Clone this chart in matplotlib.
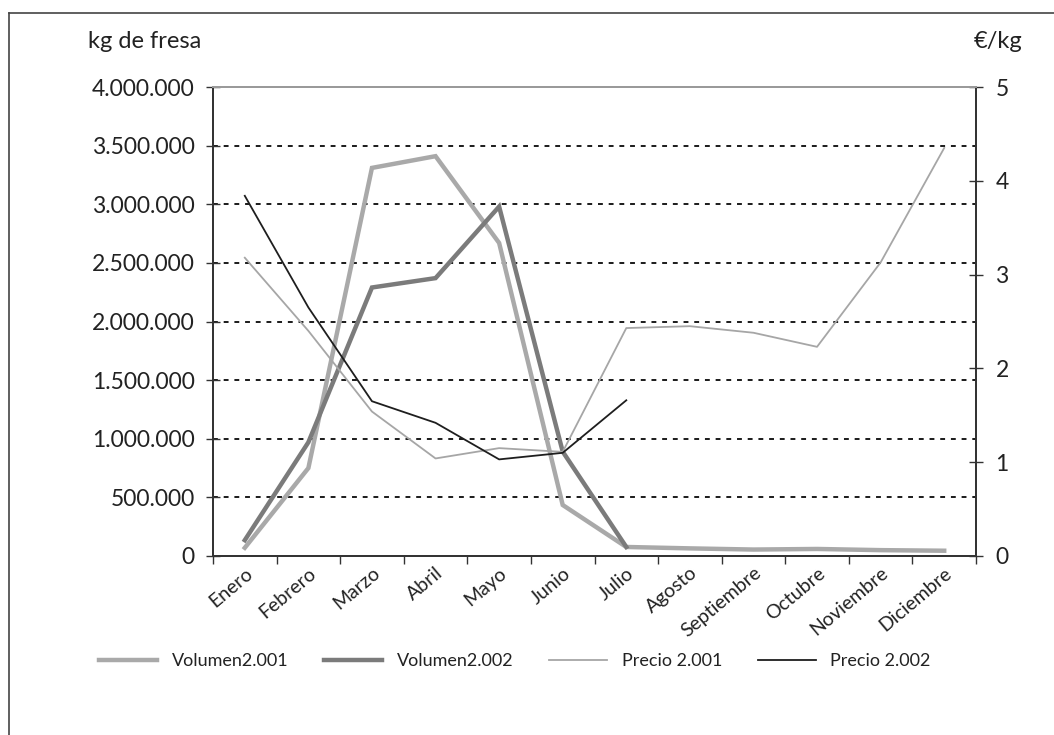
import matplotlib
matplotlib.use("Agg")
import matplotlib.pyplot as plt
from matplotlib.lines import Line2D
from matplotlib.ticker import FuncFormatter, FixedLocator

plt.rcParams['font.family'] = ['Lato', 'DejaVu Sans']

meses = ["Enero", "Febrero", "Marzo", "Abril", "Mayo", "Junio", "Julio",
         "Agosto", "Septiembre", "Octubre", "Noviembre", "Diciembre"]

volumen_2001 = [70000, 750000, 3310000, 3410000, 2670000, 435000, 77000,
                65000, 55000, 60000, 50000, 45000]
volumen_2002 = [135000, 970000, 2290000, 2370000, 2980000, 890000, 77000]
precio_2001 = [3.18, 2.40, 1.54, 1.04, 1.15, 1.11, 2.43, 2.45, 2.38, 2.23, 3.13, 4.35]
precio_2002 = [3.84, 2.65, 1.65, 1.42, 1.03, 1.10, 1.66]

left_ticks = [0, 500000, 1000000, 1500000, 2000000, 2500000, 3000000, 3500000, 4000000]
right_ticks = [0, 1, 2, 3, 4, 5]

fig = plt.figure(figsize=(10.54, 7.35), dpi=100)
ax = fig.add_axes([213/1054, 1-556/735, (976-213)/1054, (556-87)/735])
ax2 = ax.twinx()

x1 = list(range(len(volumen_2001)))
x2 = list(range(len(volumen_2002)))

l1, = ax.plot(x1, volumen_2001, color="#a9a9a9", lw=3.2, solid_joinstyle="miter", zorder=3)
l2, = ax.plot(x2, volumen_2002, color="#7b7b7b", lw=3.2, solid_joinstyle="miter", zorder=4)
l3, = ax2.plot(x1, precio_2001, color="#a6a6a6", lw=1.3, zorder=3)
l4, = ax2.plot(x2, precio_2002, color="#1e1e1e", lw=1.3, zorder=4)

ax.set_xlim(-0.5, 11.5)
ax.set_ylim(0, 4000000)
ax2.set_ylim(0, 5)

def miles(v, pos):
    return f"{int(round(v)):,}".replace(",", ".")

ax.yaxis.set_major_locator(FixedLocator(left_ticks))
ax.yaxis.set_major_formatter(FuncFormatter(miles))
ax2.yaxis.set_major_locator(FixedLocator(right_ticks))

for g in left_ticks[1:-1]:
    ax.axhline(g, color="#1a1a1a", lw=1.4, ls=(0, (2.5, 3)), zorder=1)

ax.set_xticks(x1)
ax.set_xticklabels(meses, rotation=40, ha="right", rotation_mode="anchor",
                   fontsize=14, color="#222222")
ax.tick_params(axis="x", which="major", length=0, pad=6)
ax.set_xticks([i + 0.5 for i in range(-1, 12)], minor=True)
ax.tick_params(axis="x", which="minor", length=6, width=1, direction="out", color="#333333")

ax.tick_params(axis="y", direction="inout", length=10, width=1, pad=8,
               labelsize=16.5, labelcolor="#222222", color="#333333")
ax2.tick_params(axis="y", direction="inout", length=10, width=1, pad=9,
                labelsize=16.5, labelcolor="#222222", color="#333333")

for a in (ax, ax2):
    a.spines["top"].set_color("#9a9a9a")
    a.spines["top"].set_linewidth(1.4)
    for side in ("left", "right", "bottom"):
        a.spines[side].set_color("#333333")
        a.spines[side].set_linewidth(1.3)
    a.set_facecolor("none")

fig.text(88/1054, 1-41/735, "kg de fresa", fontsize=17, ha="left", va="center", color="#222222")
fig.text(1022/1054, 1-41/735, "€/kg", fontsize=17, ha="right", va="center", color="#222222")

leg = fig.legend([l1, l2, l3, l4],
                 ["Volumen2.001", "Volumen2.002", "Precio 2.001", "Precio 2.002"],
                 loc="center", bbox_to_anchor=(515/1054, 1-661/735), ncol=4,
                 frameon=False, fontsize=13, handlelength=3.2, handletextpad=0.8,
                 columnspacing=2.0)
for t in leg.get_texts():
    t.set_color("#222222")

# frame of the scanned figure
fig.add_artist(Line2D([9/1054, 9/1054], [0, 1-13/735], color="#444444", lw=1.2))
fig.add_artist(Line2D([9/1054, 1], [1-13/735, 1-13/735], color="#444444", lw=1.2))

fig.savefig("out.png", dpi=100)
